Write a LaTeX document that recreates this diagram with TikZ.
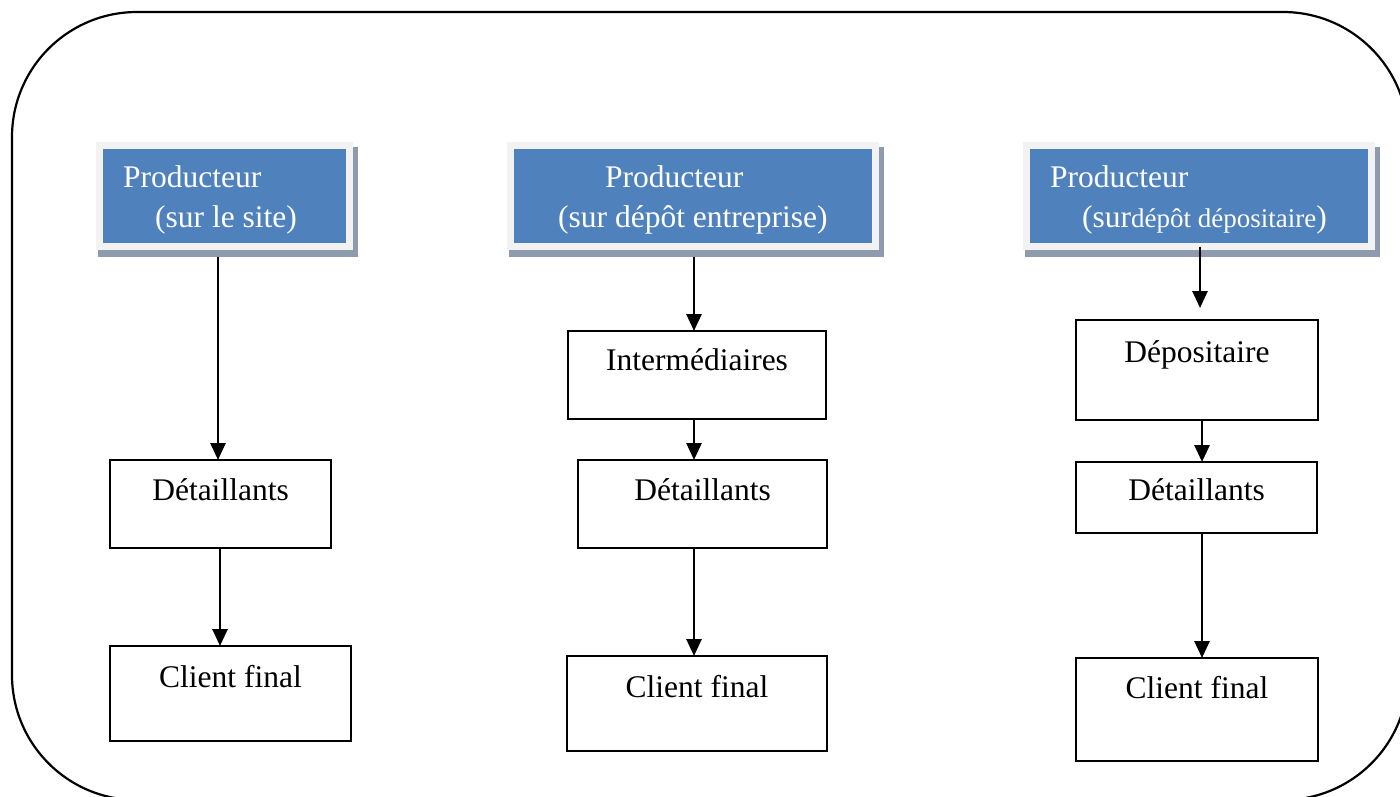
\documentclass[tikz,border=0pt]{standalone}
\usepackage{fontspec}
\setmainfont{Liberation Serif}
\usetikzlibrary{arrows.meta,backgrounds}
\definecolor{pblue}{HTML}{4F81BD}
\definecolor{pframe}{HTML}{F2F2F2}
\definecolor{pshadow}{RGB}{141,155,172}
\begin{document}
\begin{tikzpicture}[x=1pt,y=-1pt,
  txt/.style={font=\fontsize{31.5}{36}\selectfont, inner sep=0pt},
  wtxt/.style={txt, text=white, anchor=base west},
  prodbox/.style={draw=pframe, line width=7pt, fill=pblue, minimum height=101pt, inner sep=0pt, outer sep=0pt},
  flowbox/.style={draw=black, line width=2.1pt, fill=white, anchor=north, inner sep=0pt, outer sep=0pt, txt},
  arr/.style={line width=2.7pt, -{Triangle[length=17pt,width=15pt]}},
  shad/.style={fill=pshadow}
]
\useasboundingbox (0,0) rectangle (1400,796);
\begin{scope}
  \clip (0,0) rectangle (1400,796);
  \draw[line width=2.2pt, rounded corners=125pt] (12,12) rectangle (1408,800);
\end{scope}

% producer boxes
\node[prodbox, minimum width=250pt] (b1) at (224.5,196) {};
\node[prodbox, minimum width=365pt] (b2) at (693,196) {};
\node[prodbox, minimum width=345pt] (b3) at (1199,196) {};

\begin{scope}[on background layer]
  \fill[shad] ([shift={(-1.5,1.5)}]b1.north west) rectangle ([shift={(8.5,10.5)}]b1.south east);
  \fill[shad] ([shift={(-1.5,1.5)}]b2.north west) rectangle ([shift={(8.5,10.5)}]b2.south east);
  \fill[shad] ([shift={(-1.5,1.5)}]b3.north west) rectangle ([shift={(8.5,10.5)}]b3.south east);
\end{scope}

\node[wtxt] (t1a) at (123,187) {Producteur};
\node[wtxt] (t1b) at (155,227) {(sur le site)};
\node[wtxt] (t2a) at (605,187) {Producteur};
\node[wtxt] (t2b) at (558,227) {(sur dépôt entreprise)};
\node[wtxt] (t3a) at (1050,187) {Producteur};
\node[wtxt] (t3b) at (1082,227) {(sur{\fontsize{27}{30}\selectfont dépôt dépositaire})};

% column 1
\node[flowbox, minimum width=221pt, text height=40pt, text depth=48pt] (d1) at (220.5,460) {Détaillants};
\node[flowbox, minimum width=241pt, text height=41pt, text depth=54pt] (c1) at (230.5,646) {Client final};
% column 2
\node[flowbox, minimum width=258pt, text height=39pt, text depth=49pt] (i2) at (697,331) {Intermédiaires};
\node[flowbox, minimum width=249pt, text height=40pt, text depth=48pt] (d2) at (702.5,460) {Détaillants};
\node[flowbox, minimum width=260pt, text height=41pt, text depth=54pt] (c2) at (697,656) {Client final};
% column 3
\node[flowbox, minimum width=242pt, text height=42pt, text depth=58pt] (dep3) at (1197,320) {Dépositaire};
\node[flowbox, minimum width=241pt, text height=38pt, text depth=33pt] (d3) at (1196.5,462) {Détaillants};
\node[flowbox, minimum width=242pt, text height=40pt, text depth=63pt] (c3) at (1197,658) {Client final};

% helper coordinates
\coordinate (x1a) at (218,0);
\coordinate (x1b) at (220,0);
\coordinate (x2) at (694,0);
\coordinate (x3a) at (1200,0);
\coordinate (x3b) at (1202,0);
\coordinate (b1o) at ([yshift=-10.5pt]b1.south);
\coordinate (b2o) at ([yshift=-10.5pt]b2.south);
\coordinate (dep3t) at ([yshift=12pt]dep3.north);

% arrows
\draw[arr] (b1o -| x1a) -- (d1.north -| x1a);
\draw[arr] (d1.south -| x1b) -- (c1.north -| x1b);
\draw[arr] (b2o -| x2) -- (i2.north -| x2);
\draw[arr] (i2.south -| x2) -- (d2.north -| x2);
\draw[arr] (d2.south -| x2) -- (c2.north -| x2);
\draw[arr] (b3.south -| x3a) -- (dep3t -| x3a);
\draw[arr] (dep3.south -| x3b) -- (d3.north -| x3b);
\draw[arr] (d3.south -| x3b) -- (c3.north -| x3b);
\end{tikzpicture}
\end{document}
